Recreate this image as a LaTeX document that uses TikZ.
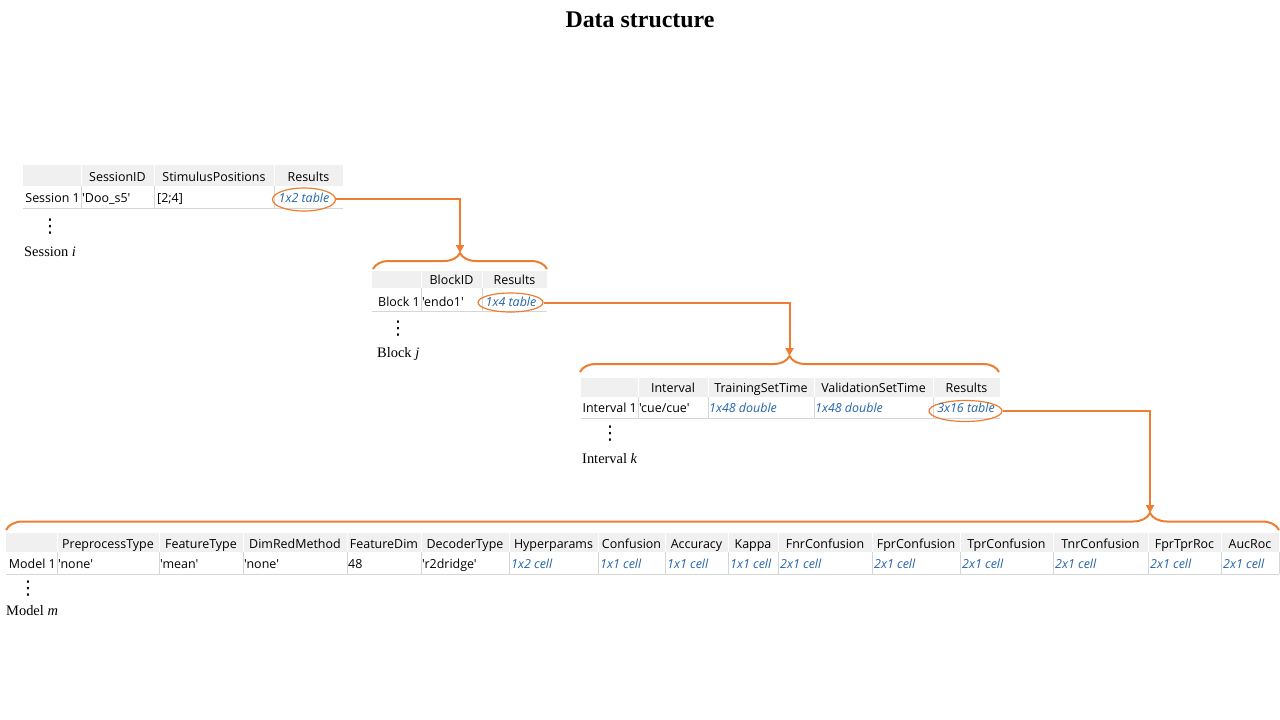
\documentclass[tikz,border=0pt]{standalone}
\usepackage{fontspec}
\setmainfont{Liberation Serif}
\newfontfamily\tabfont{Open Sans}[Ligatures=TeXOff]
\newfontfamily\symfont{DejaVu Sans}
\usetikzlibrary{shapes.geometric,decorations.pathreplacing,arrows.meta}
\definecolor{orng}{RGB}{237,125,49}
\definecolor{lnk}{RGB}{36,100,170}
\definecolor{hdr}{RGB}{240,240,240}
\definecolor{grid}{RGB}{214,214,214}
\tikzset{
 head/.style
  = {font=\tabfont\fontsize{12.5}{14}\selectfont, inner sep=0pt, anchor=base},
 val/.style
  = {font=\tabfont\fontsize{12.5}{14}\selectfont, inner sep=0pt, anchor=base west},
 link/.style
  = {font=\tabfont\itshape\fontsize{12.5}{14}\selectfont, inner sep=0pt, text=lnk, anchor=base},
 linkw/.style
  = {link, anchor=base west},
 rowname/.style
  = {head, anchor=base east},
 oval/.style
  = {ellipse, draw=orng, line width=1.2bp, inner sep=0pt},
 brc/.style
  = {draw=orng, line width=2bp, decorate, decoration={brace, amplitude=16bp}},
 arrow/.style
  = {draw=orng, line width=2bp, -{Triangle[length=8bp,width=8bp]}},
 hdrow/.style
  = {fill=hdr},
 gridl/.style
  = {draw=grid, line width=0.8bp},
 hsep/.style
  = {draw=white, line width=0.8bp},
 lbl/.style
  = {font=\fontsize{14.5}{16}\selectfont, anchor=base west, inner sep=0pt},
 vdots/.style
  = {font=\symfont\fontsize{19}{20}\selectfont, inner sep=0pt},
}
\begin{document}
\begin{tikzpicture}[x=1bp,y=-1bp]
\useasboundingbox (0,0) rectangle (1280,720);

% Title
\node[font=\bfseries\fontsize{24}{28}\selectfont, inner sep=0pt] (title) at (640,20) {Data structure};

% Session table
\fill[hdrow] (23,165) rectangle (343,186);
\draw[hsep] (81,165) -- (81,186) (154,165) -- (154,186) (274,165) -- (274,186);
\draw[gridl] (81,186) -- (81,208) (154,186) -- (154,208) (274,186) -- (274,208) (23,208) -- (343,208);
\node[head] (sh1) at (117.5,181.5) {SessionID};
\node[head] (sh2) at (214,181.5) {StimulusPositions};
\node[head] (sh3) at (308.5,181.5) {Results};
\node[rowname] (sr) at (80,202.5) {Session 1};
\node[val] (sv1) at (82,202.5) {'Doo\_s5'};
\node[val] (sv2) at (157,202.5) {[2;4]};
\node[oval, minimum width=63bp, minimum height=23bp] (r1) at (304,199.5) {};
\node[link] (sl) at (304,202.5) {1x2 table};
\node[vdots] (sd) at (50,227) {⋮};
\node[lbl] (sn) at (24,256) {Session \textit{i}};

% Block table
\draw[brc] (373,269) -- (547,269);
\fill[hdrow] (372,271) rectangle (547,288);
\draw[hsep] (421,271) -- (421,288) (482,271) -- (482,288);
\draw[gridl] (421,288) -- (421,311) (482,288) -- (482,311) (372,311) -- (547,311);
\node[head] (bh1) at (451.5,284.5) {BlockID};
\node[head] (bh2) at (514.5,284.5) {Results};
\node[rowname] (br) at (420,306) {Block 1};
\node[val] (bv1) at (422,306) {'endo1'};
\node[oval, minimum width=65bp, minimum height=19bp] (r2) at (510.5,302.5) {};
\node[link] (bl) at (511,306) {1x4 table};
\node[vdots] (bd) at (398,329) {⋮};
\node[lbl] (bn) at (377,357) {Block \textit{j}};

% Interval table
\draw[brc] (580,372) -- (999,372);
\fill[hdrow] (581,378) rectangle (1000,397);
\draw[hsep] (638,378) -- (638,397) (708,378) -- (708,397) (814,378) -- (814,397) (933,378) -- (933,397);
\draw[gridl] (638,397) -- (638,418) (708,397) -- (708,418) (814,397) -- (814,418) (933,397) -- (933,418) (581,418) -- (1000,418);
\node[head] (ih1) at (673,392.5) {Interval};
\node[head] (ih2) at (761,392.5) {TrainingSetTime};
\node[head] (ih3) at (873.5,392.5) {ValidationSetTime};
\node[head] (ih4) at (966.5,392.5) {Results};
\node[rowname] (ir) at (637,412.5) {Interval 1};
\node[val] (iv1) at (639,412.5) {'cue/cue'};
\node[linkw] (iv2) at (709,412.5) {1x48 double};
\node[linkw] (iv3) at (815,412.5) {1x48 double};
\node[oval, minimum width=73bp, minimum height=21bp] (r3) at (965.5,411) {};
\node[link] (il) at (966,412.5) {3x16 table};
\node[vdots] (id) at (610,433.5) {⋮};
\node[lbl] (in) at (582,463) {Interval \textit{k}};

% Model table
\draw[brc, decoration={aspect=0.8987, amplitude=17bp}] (6,530) -- (1279,530);
\fill[hdrow] (6,533) rectangle (1279,552);
\draw[hsep] (57,533) -- (57,552) (159,533) -- (159,552) (243,533) -- (243,552) (347,533) -- (347,552)
  (421,533) -- (421,552) (509,533) -- (509,552) (598,533) -- (598,552) (665,533) -- (665,552)
  (728,533) -- (728,552) (778,533) -- (778,552) (872,533) -- (872,552) (960,533) -- (960,552)
  (1053,533) -- (1053,552) (1148,533) -- (1148,552) (1221,533) -- (1221,552);
\draw[gridl] (57,552) -- (57,574) (159,552) -- (159,574) (243,552) -- (243,574) (347,552) -- (347,574)
  (421,552) -- (421,574) (509,552) -- (509,574) (598,552) -- (598,574) (665,552) -- (665,574)
  (728,552) -- (728,574) (778,552) -- (778,574) (872,552) -- (872,574) (960,552) -- (960,574)
  (1053,552) -- (1053,574) (1148,552) -- (1148,574) (1221,552) -- (1221,574) (1279,552) -- (1279,574)
  (6,574) -- (1279,574);
\node[head] (mh1) at (108,548) {PreprocessType};
\node[head] (mh2) at (201,548) {FeatureType};
\node[head] (mh3) at (295,548) {DimRedMethod};
\node[head] (mh4) at (384,548) {FeatureDim};
\node[head] (mh5) at (465,548) {DecoderType};
\node[head] (mh6) at (553.5,548) {Hyperparams};
\node[head] (mh7) at (631.5,548) {Confusion};
\node[head] (mh8) at (696.5,548) {Accuracy};
\node[head] (mh9) at (753,548) {Kappa};
\node[head] (mh10) at (825,548) {FnrConfusion};
\node[head] (mh11) at (916,548) {FprConfusion};
\node[head] (mh12) at (1006.5,548) {TprConfusion};
\node[head] (mh13) at (1100.5,548) {TnrConfusion};
\node[head] (mh14) at (1184.5,548) {FprTprRoc};
\node[head] (mh15) at (1250,548) {AucRoc};
\node[rowname] (mr) at (56,568.5) {Model 1};
\node[val] (mv1) at (58,568.5) {'none'};
\node[val] (mv2) at (160,568.5) {'mean'};
\node[val] (mv3) at (244,568.5) {'none'};
\node[val] (mv4) at (348,568.5) {48};
\node[val] (mv5) at (422,568.5) {'r2dridge'};
\node[linkw] (mv6) at (511,568.5) {1x2 cell};
\node[linkw] (mv7) at (600,568.5) {1x1 cell};
\node[linkw] (mv8) at (667,568.5) {1x1 cell};
\node[linkw] (mv9) at (730,568.5) {1x1 cell};
\node[linkw] (mv10) at (780,568.5) {2x1 cell};
\node[linkw] (mv11) at (874,568.5) {2x1 cell};
\node[linkw] (mv12) at (962,568.5) {2x1 cell};
\node[linkw] (mv13) at (1055,568.5) {2x1 cell};
\node[linkw] (mv14) at (1150,568.5) {2x1 cell};
\node[linkw] (mv15) at (1223,568.5) {2x1 cell};
\node[vdots] (md) at (28,588.5) {⋮};
\node[lbl] (mn) at (6,615) {Model \textit{m}};

% Links
\coordinate (t1) at (460,253);
\coordinate (t2) at (789.5,356);
\coordinate (t3) at (1150,513);
\draw[arrow] (r1.east) -| (t1);
\draw[arrow] (r2.east) -| (t2);
\draw[arrow] (r3.east) -| (t3);

\end{tikzpicture}
\end{document}
